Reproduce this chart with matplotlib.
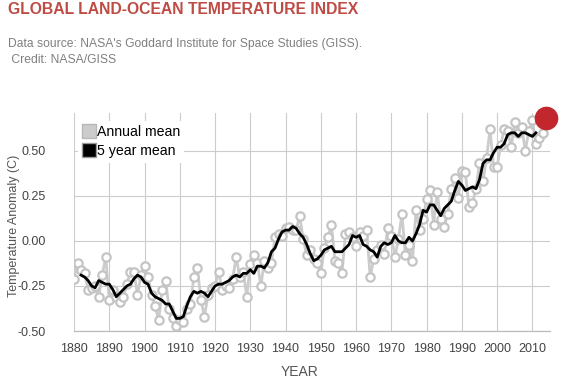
import matplotlib
matplotlib.use("Agg")
import matplotlib.pyplot as plt
from matplotlib.lines import Line2D

plt.rcParams['font.family'] = ['Liberation Sans', 'DejaVu Sans']

# ---- data ----
years = list(range(1880, 2014))
annual_mean = [
    -0.21, -0.12, -0.16, -0.18, -0.27, -0.26, -0.25, -0.31, -0.19, -0.09,
    -0.33, -0.27, -0.31, -0.34, -0.31, -0.24, -0.17, -0.17, -0.30, -0.19,
    -0.14, -0.20, -0.30, -0.36, -0.44, -0.27, -0.22, -0.38, -0.43, -0.47,
    -0.44, -0.45, -0.38, -0.35, -0.20, -0.15, -0.33, -0.42, -0.30, -0.26,
    -0.25, -0.17, -0.27, -0.25, -0.26, -0.21, -0.09, -0.20, -0.17, -0.31,
    -0.13, -0.08, -0.12, -0.25, -0.11, -0.15, -0.12, 0.02, 0.04, 0.03,
    0.07, 0.08, 0.06, 0.06, 0.14, 0.01, -0.08, -0.05, -0.10, -0.12,
    -0.18, -0.04, 0.02, 0.09, -0.11, -0.12, -0.18, 0.04, 0.05, 0.02,
    -0.03, 0.05, 0.03, 0.06, -0.20, -0.10, -0.05, -0.02, -0.07, 0.07,
    0.03, -0.09, 0.01, 0.15, -0.08, -0.02, -0.11, 0.17, 0.06, 0.12,
    0.23, 0.28, 0.09, 0.27, 0.12, 0.08, 0.15, 0.29, 0.35, 0.24,
    0.39, 0.38, 0.19, 0.21, 0.29, 0.43, 0.33, 0.46, 0.62, 0.41,
    0.41, 0.53, 0.62, 0.61, 0.52, 0.66, 0.60, 0.63, 0.50, 0.61,
    0.67, 0.54, 0.57, 0.60,
]
five_year_years = list(range(1882, 2012))
five_year_mean = [
    -0.19, -0.20, -0.22, -0.25, -0.26, -0.22, -0.23, -0.24,
    -0.24, -0.27, -0.31, -0.29, -0.27, -0.25, -0.24, -0.21, -0.19, -0.20,
    -0.23, -0.24, -0.29, -0.31, -0.32, -0.33, -0.35, -0.35, -0.39, -0.43,
    -0.43, -0.42, -0.36, -0.31, -0.28, -0.29, -0.28, -0.29, -0.31, -0.28,
    -0.25, -0.24, -0.24, -0.23, -0.22, -0.20, -0.19, -0.20, -0.18, -0.18,
    -0.16, -0.18, -0.14, -0.14, -0.15, -0.12, -0.06, -0.04, 0.01, 0.05,
    0.06, 0.06, 0.08, 0.07, 0.04, 0.02, -0.02, -0.07, -0.11, -0.10,
    -0.08, -0.05, -0.04, -0.03, -0.06, -0.06, -0.06, -0.04, -0.02, 0.03,
    0.02, 0.03, -0.02, -0.03, -0.05, -0.06, -0.09, -0.03, -0.01, -0.02,
    -0.01, 0.03, 0.00, -0.01, -0.01, 0.02, 0.00, 0.04, 0.09, 0.17,
    0.16, 0.20, 0.20, 0.17, 0.14, 0.18, 0.20, 0.22, 0.28, 0.33,
    0.31, 0.28, 0.29, 0.30, 0.29, 0.34, 0.43, 0.45, 0.45, 0.49,
    0.52, 0.52, 0.54, 0.59, 0.60, 0.60, 0.58, 0.60, 0.60, 0.59,
    0.58, 0.60,
]
latest_year = [2014]
latest_value = [0.68]

x_ticks = list(range(1880, 2011, 10))
y_ticks = [-0.50, -0.25, 0.00, 0.25, 0.50]

title = "GLOBAL LAND-OCEAN TEMPERATURE INDEX"
subtitle1 = "Data source: NASA's Goddard Institute for Space Studies (GISS)."
subtitle2 = " Credit: NASA/GISS"

# ---- figure ----
fig = plt.figure(figsize=(5.65, 3.83), dpi=100)
ax = fig.add_axes([74/565, 1 - 331/383, (550-74)/565, (331-113)/383])

grid_c = '#cccccc'
ax.plot(years, annual_mean, color='#cccccc', lw=2, marker='o', ms=6,
        mfc='white', mec='#c4c4c4', mew=1.6, zorder=3)
ax.plot(five_year_years, five_year_mean, color='black', lw=2, zorder=4)
ax.plot(latest_year, latest_value, marker='o', ms=16, color='#c1272d',
        ls='none', clip_on=False, zorder=6)

ax.set_xlim(1880, 2015)
ax.set_ylim(-0.5, 0.71)
ax.set_xticks(x_ticks)
ax.set_xticklabels([str(t) for t in x_ticks])
ax.set_yticks(y_ticks)
ax.set_yticklabels([f"{t:.2f}" for t in y_ticks])
ax.grid(True, color=grid_c, lw=0.8)
ax.set_axisbelow(True)
for s in ['top', 'right', 'left']:
    ax.spines[s].set_visible(False)
ax.spines['bottom'].set_color('#bbbbbb')
ax.spines['bottom'].set_linewidth(0.9)
ax.tick_params(axis='both', length=0, labelsize=9, labelcolor='#444444')
ax.tick_params(axis='x', pad=9)
ax.tick_params(axis='y', pad=20)

fig.text(300/565, 1 - 372/383, "YEAR", fontsize=10, color='#555555',
         va='center', ha='center')
fig.text(14/565, 1 - 226/383, "Temperature Anomaly (C)", fontsize=9,
         color='#555555', va='center', ha='center', rotation=90)

handles = [
    Line2D([], [], marker='s', ls='none', ms=10, mfc='#cccccc', mec='#b8b8b8', mew=1),
    Line2D([], [], marker='s', ls='none', ms=10, mfc='black', mec='#999999', mew=1),
]
leg = ax.legend(handles, ["Annual mean", "5 year mean"], loc='upper left',
                bbox_to_anchor=(0.0, 0.985), frameon=True, fontsize=10.2,
                handlelength=0.9, handletextpad=0.1, labelspacing=0.4,
                borderpad=0.3, borderaxespad=0.3)
leg.get_frame().set_facecolor('white')
leg.get_frame().set_edgecolor('none')
leg.get_frame().set_alpha(1)
leg.set_zorder(5)

fig.text(8/565, 1 - 9/383, title, fontsize=11.3, fontweight='bold',
         color='#bf4b45', va='center', ha='left')
fig.text(8/565, 1 - 44/383, subtitle1, fontsize=8.7, color='#808080',
         va='center', ha='left')
fig.text(8/565, 1 - 60/383, subtitle2, fontsize=8.7, color='#808080',
         va='center', ha='left')

fig.savefig("out.png", dpi=100)
